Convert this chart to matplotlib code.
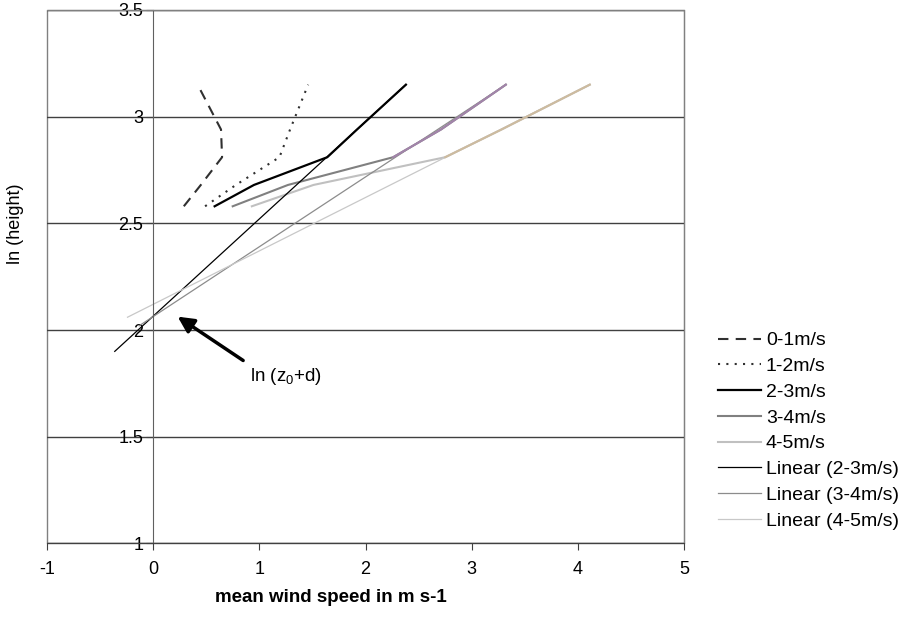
import matplotlib
matplotlib.use("Agg")
import matplotlib.pyplot as plt
from matplotlib.patches import Rectangle

plt.rcParams["font.family"] = ["Liberation Sans", "DejaVu Sans"]
plt.rcParams["mathtext.default"] = "regular"
plt.rcParams["axes.unicode_minus"] = False

# ln(height) levels shared by all wind-speed classes
ln_height = [2.58, 2.68, 2.81, 2.94, 3.15]

# mean wind speed profiles per class (m/s)
ws_01 = [0.29, 0.45, 0.65, 0.64, 0.42]
ws_12 = [0.49, 0.78, 1.19, 1.29, 1.46]
ws_23 = [0.58, 0.95, 1.64, 1.92, 2.38]
ws_34 = [0.75, 1.27, 2.26, 2.71, 3.32]
ws_45 = [0.93, 1.51, 2.75, 3.28, 4.11]

# linear trend lines (start/end points as drawn)
trend_23_x = [-0.36, 2.38]
trend_23_y = [1.90, 3.15]
trend_34_x = [-0.13, 3.32]
trend_34_y = [2.02, 3.15]
trend_45_x = [-0.24, 4.11]
trend_45_y = [2.06, 3.15]

fig = plt.figure(figsize=(9.04, 6.17), dpi=100)
ax = fig.add_axes([0.0517, 0.1193, 0.7053, 0.8645])

h = []
h += ax.plot(ws_01, ln_height, color="#303030", lw=1.5, ls=(0, (5, 3.5)), label="0-1m/s")
h += ax.plot(ws_12, ln_height, color="#303030", lw=1.5, ls=(0, (1, 3)), label="1-2m/s")
h += ax.plot(ws_23, ln_height, color="black", lw=1.6, label="2-3m/s")
h += ax.plot(ws_34, ln_height, color="#808080", lw=1.5, label="3-4m/s")
h += ax.plot(ws_45, ln_height, color="#c0c0c0", lw=1.5, label="4-5m/s")
h += ax.plot(trend_23_x, trend_23_y, color="black", lw=0.9, label="Linear (2-3m/s)")
h += ax.plot(trend_34_x, trend_34_y, color="#8c8c8c", lw=0.9, label="Linear (3-4m/s)")
h += ax.plot(trend_45_x, trend_45_y, color="#c8c8c8", lw=0.9, label="Linear (4-5m/s)")

# tinted overlap where data and trend coincide
ax.plot(ws_34[2:], ln_height[2:], color="#a284aa", lw=1.5)
ax.plot(ws_45[2:], ln_height[2:], color="#cdbb9f", lw=1.5)

ax.set_xlim(-1, 5)
ax.set_ylim(1, 3.5)
ax.set_xticks(range(-1, 6))
ax.set_yticks([1, 1.5, 2, 2.5, 3, 3.5])
ax.set_yticklabels(["1", "1.5", "2", "2.5", "3", "3.5"])

ax.yaxis.grid(True, color="#404040", lw=1)
ax.set_axisbelow(True)

ax.spines["left"].set_position(("data", 0))
ax.spines["left"].set_color("#606060")
ax.spines["bottom"].set_color("#404040")
for s in ["top", "right"]:
    ax.spines[s].set_color("#808080")
ax.add_patch(Rectangle((0, 0), 1, 1, transform=ax.transAxes, fill=False,
                       edgecolor="#808080", lw=1, clip_on=False, zorder=0))

ax.tick_params(axis="both", direction="out", length=5, labelsize=13, color="#404040")
ax.tick_params(axis="x", pad=8)
ax.tick_params(axis="y", pad=2)

ax.set_xlabel("mean wind speed in m s-1", fontsize=13.5, fontweight="bold")
ax.xaxis.set_label_coords(0.445, -0.085)
ax.set_ylabel("ln (height)", fontsize=13)
ax.yaxis.set_label_coords(-0.035, 0.6)

ax.annotate("", xy=(0.21, 2.07), xytext=(0.87, 1.85),
            arrowprops=dict(arrowstyle="-|>", lw=2.5, color="black", mutation_scale=24))
ax.text(0.91, 1.78, "ln (z$_0$+d)", fontsize=13.5, va="center", ha="left")

fig.legend(handles=h, loc="upper left", bbox_to_anchor=(0.786, 0.475), frameon=False,
           fontsize=14, handlelength=2.2, handletextpad=0.25, labelspacing=0.42,
           borderaxespad=0)

fig.savefig("out.png", dpi=100)
